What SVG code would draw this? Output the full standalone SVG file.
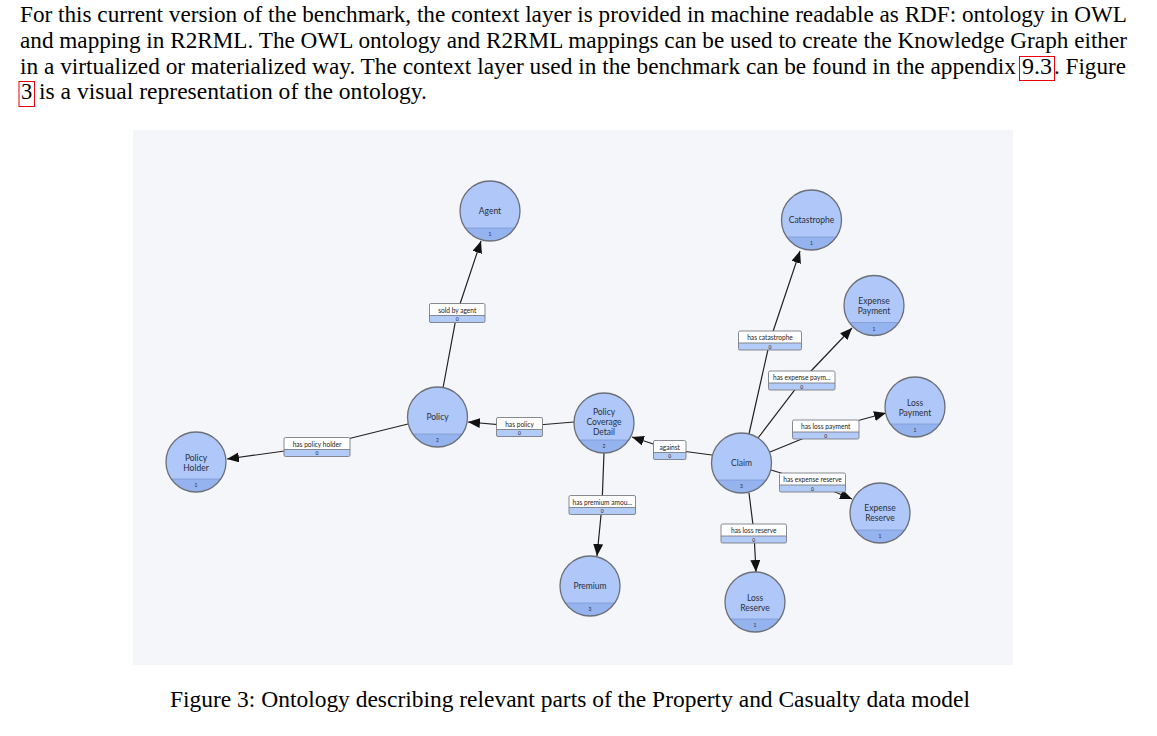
<svg xmlns="http://www.w3.org/2000/svg" xmlns:xlink="http://www.w3.org/1999/xlink" width="1157" height="736" viewBox="0 0 1157 736">
<style>
.body{font-family:"Liberation Serif","Times New Roman",serif;font-size:22.5px;fill:#000}
.ref{fill:none;stroke:#e8000b;stroke-width:1}
.nfill{fill:#afc8f9}
.band{fill:#94b3ef}
.chord{stroke:#7f9ad0;stroke-width:0.8}
.nline{fill:none;stroke:#6b6f78;stroke-width:1.3}
.nt{font-family:Lato,"Noto Sans",sans-serif;font-size:8.5px;fill:#2b2f3a;text-anchor:middle}
.cnt{font-family:Lato,"Noto Sans",sans-serif;font-size:5px;fill:#2b2f3a;text-anchor:middle}
.lbox{fill:#fff}
.lband{fill:#b3cbf7}
.lline{fill:none;stroke:#7a7d85;stroke-width:0.9}
.lt{font-family:Lato,"Noto Sans",sans-serif;font-size:6.6px;fill:#1a1a1a;text-anchor:middle}
.lc{font-family:Lato,"Noto Sans",sans-serif;font-size:5px;fill:#1a1a1a;text-anchor:middle}
.edge{fill:none;stroke:#222;stroke-width:1.2;marker-end:url(#arr)}
</style>
<defs>
<marker id="arr" markerUnits="userSpaceOnUse" markerWidth="13" markerHeight="11" refX="12" refY="5" orient="auto">
<path d="M0,0 L12,5 L0,10 Z" fill="#111"/>
</marker>
<g id="nodeShape">
<circle r="30" class="nfill"/>
<path d="M-24.7,17 A30,30 0 0 0 24.7,17 Z" class="band"/>
<line x1="-24.7" y1="17" x2="24.7" y2="17" class="chord"/>
<circle r="30" class="nline"/>
</g>
</defs>

<rect width="1157" height="736" fill="#fff"/>

<g id="paragraph">
<text class="body" x="20" y="22" textLength="1107" lengthAdjust="spacingAndGlyphs">For this current version of the benchmark, the context layer is provided in machine readable as RDF: ontology in OWL</text>
<text class="body" x="20" y="48" textLength="1107" lengthAdjust="spacingAndGlyphs">and mapping in R2RML. The OWL ontology and R2RML mappings can be used to create the Knowledge Graph either</text>
<text class="body" x="20" y="73.5" textLength="996" lengthAdjust="spacingAndGlyphs">in a virtualized or materialized way. The context layer used in the benchmark can be found in the appendix</text>
<text class="body" x="1022" y="73.5" textLength="30" lengthAdjust="spacingAndGlyphs">9.3</text>
<text class="body" x="1054" y="73.5" textLength="72" lengthAdjust="spacingAndGlyphs">. Figure</text>
<rect class="ref" x="1019.5" y="56.5" width="35" height="24"/>
<text class="body" x="21" y="99">3</text>
<rect class="ref" x="19" y="81.5" width="15.5" height="25"/>
<text class="body" x="39" y="99" textLength="388" lengthAdjust="spacingAndGlyphs">is a visual representation of the ontology.</text>
</g>

<rect id="panel" x="133" y="130" width="880" height="535" fill="#f5f6fa"/>

<g id="connectors">
<polyline class="edge" points="443,388 457,313 481,241"/>
<polyline class="edge" points="408,424 317,446.5 227,459"/>
<polyline class="edge" points="574,422 520,426.5 468,422"/>
<polyline class="edge" points="712,455 670,449.5 632,437"/>
<polyline class="edge" points="604,453 602,505 597,556"/>
<polyline class="edge" points="749,434 770,340.5 800,251"/>
<polyline class="edge" points="758,438 802,380.5 852,328"/>
<polyline class="edge" points="770,452 825,429.5 886,413"/>
<polyline class="edge" points="771,470 812,482.5 852,499"/>
<polyline class="edge" points="749,493 754,533 756,572"/>
</g>

<g id="edge-labels">
<g id="l-sold-by-agent" transform="translate(429.5,303.5)"><rect class="lbox" width="55.5" height="19" rx="1.5"/><rect class="lband" y="12" width="55.5" height="7"/><line class="lline" x1="0" y1="12" x2="55.5" y2="12"/><rect class="lline" width="55.5" height="19" rx="1.5"/><text class="lt" x="27.75" y="9">sold by agent</text><text class="lc" x="27.75" y="17.5">0</text></g>
<g id="l-has-policy-holder" transform="translate(284,437.5)"><rect class="lbox" width="66" height="19" rx="1.5"/><rect class="lband" y="12" width="66" height="7"/><line class="lline" x1="0" y1="12" x2="66" y2="12"/><rect class="lline" width="66" height="19" rx="1.5"/><text class="lt" x="33" y="9">has policy holder</text><text class="lc" x="33" y="17.5">0</text></g>
<g id="l-has-policy" transform="translate(496.5,417.5)"><rect class="lbox" width="46" height="19" rx="1.5"/><rect class="lband" y="12" width="46" height="7"/><line class="lline" x1="0" y1="12" x2="46" y2="12"/><rect class="lline" width="46" height="19" rx="1.5"/><text class="lt" x="23" y="9">has policy</text><text class="lc" x="23" y="17.5">0</text></g>
<g id="l-against" transform="translate(653.5,440.5)"><rect class="lbox" width="32.5" height="19" rx="1.5"/><rect class="lband" y="12" width="32.5" height="7"/><line class="lline" x1="0" y1="12" x2="32.5" y2="12"/><rect class="lline" width="32.5" height="19" rx="1.5"/><text class="lt" x="16.25" y="9">against</text><text class="lc" x="16.25" y="17.5">0</text></g>
<g id="l-has-premium" transform="translate(569,495.5)"><rect class="lbox" width="66.5" height="19" rx="1.5"/><rect class="lband" y="12" width="66.5" height="7"/><line class="lline" x1="0" y1="12" x2="66.5" y2="12"/><rect class="lline" width="66.5" height="19" rx="1.5"/><text class="lt" x="33.25" y="9">has premium amou...</text><text class="lc" x="33.25" y="17.5">0</text></g>
<g id="l-has-catastrophe" transform="translate(738.5,331)"><rect class="lbox" width="63" height="19" rx="1.5"/><rect class="lband" y="12" width="63" height="7"/><line class="lline" x1="0" y1="12" x2="63" y2="12"/><rect class="lline" width="63" height="19" rx="1.5"/><text class="lt" x="31.5" y="9">has catastrophe</text><text class="lc" x="31.5" y="17.5">0</text></g>
<g id="l-has-expense-payment" transform="translate(768.5,371)"><rect class="lbox" width="66.5" height="19" rx="1.5"/><rect class="lband" y="12" width="66.5" height="7"/><line class="lline" x1="0" y1="12" x2="66.5" y2="12"/><rect class="lline" width="66.5" height="19" rx="1.5"/><text class="lt" x="33.25" y="9">has expense paym...</text><text class="lc" x="33.25" y="17.5">0</text></g>
<g id="l-has-loss-payment" transform="translate(792.5,420)"><rect class="lbox" width="66.5" height="19" rx="1.5"/><rect class="lband" y="12" width="66.5" height="7"/><line class="lline" x1="0" y1="12" x2="66.5" y2="12"/><rect class="lline" width="66.5" height="19" rx="1.5"/><text class="lt" x="33.25" y="9">has loss payment</text><text class="lc" x="33.25" y="17.5">0</text></g>
<g id="l-has-expense-reserve" transform="translate(779.5,473)"><rect class="lbox" width="66" height="19" rx="1.5"/><rect class="lband" y="12" width="66" height="7"/><line class="lline" x1="0" y1="12" x2="66" y2="12"/><rect class="lline" width="66" height="19" rx="1.5"/><text class="lt" x="33" y="9">has expense reserve</text><text class="lc" x="33" y="17.5">0</text></g>
<g id="l-has-loss-reserve" transform="translate(721,524)"><rect class="lbox" width="65.5" height="19" rx="1.5"/><rect class="lband" y="12" width="65.5" height="7"/><line class="lline" x1="0" y1="12" x2="65.5" y2="12"/><rect class="lline" width="65.5" height="19" rx="1.5"/><text class="lt" x="32.75" y="9">has loss reserve</text><text class="lc" x="32.75" y="17.5">0</text></g>
</g>

<g id="n-agent" transform="translate(490,211)"><use xlink:href="#nodeShape" href="#nodeShape"/><text class="nt" y="2.5">Agent</text><text class="cnt" y="25">1</text></g>
<g id="n-policy-holder" transform="translate(196,462)"><use xlink:href="#nodeShape" href="#nodeShape"/><text class="nt" y="-1.5">Policy</text><text class="nt" y="8.7">Holder</text><text class="cnt" y="25">1</text></g>
<g id="n-policy" transform="translate(437.5,417)"><use xlink:href="#nodeShape" href="#nodeShape"/><text class="nt" y="2.5">Policy</text><text class="cnt" y="25">2</text></g>
<g id="n-policy-coverage-detail" transform="translate(604,423)"><use xlink:href="#nodeShape" href="#nodeShape"/><text class="nt" y="-7.7">Policy</text><text class="nt" y="2.3">Coverage</text><text class="nt" y="12.3">Detail</text><text class="cnt" y="25">2</text></g>
<g id="n-premium" transform="translate(590,586)"><use xlink:href="#nodeShape" href="#nodeShape"/><text class="nt" y="3">Premium</text><text class="cnt" y="25">3</text></g>
<g id="n-claim" transform="translate(741.5,463)"><use xlink:href="#nodeShape" href="#nodeShape"/><text class="nt" y="3">Claim</text><text class="cnt" y="25">3</text></g>
<g id="n-catastrophe" transform="translate(811.5,220)"><use xlink:href="#nodeShape" href="#nodeShape"/><text class="nt" y="3">Catastrophe</text><text class="cnt" y="25">1</text></g>
<g id="n-expense-payment" transform="translate(874,305.5)"><use xlink:href="#nodeShape" href="#nodeShape"/><text class="nt" y="-2">Expense</text><text class="nt" y="8.3">Payment</text><text class="cnt" y="25">1</text></g>
<g id="n-loss-payment" transform="translate(915,407)"><use xlink:href="#nodeShape" href="#nodeShape"/><text class="nt" y="-1.5">Loss</text><text class="nt" y="8.5">Payment</text><text class="cnt" y="25">1</text></g>
<g id="n-expense-reserve" transform="translate(880,513)"><use xlink:href="#nodeShape" href="#nodeShape"/><text class="nt" y="-2">Expense</text><text class="nt" y="8.3">Reserve</text><text class="cnt" y="25">1</text></g>
<g id="n-loss-reserve" transform="translate(755,602)"><use xlink:href="#nodeShape" href="#nodeShape"/><text class="nt" y="-1">Loss</text><text class="nt" y="9">Reserve</text><text class="cnt" y="25">1</text></g>

<text id="caption" class="body" x="170" y="707" textLength="800" lengthAdjust="spacingAndGlyphs">Figure 3: Ontology describing relevant parts of the Property and Casualty data model</text>
</svg>
